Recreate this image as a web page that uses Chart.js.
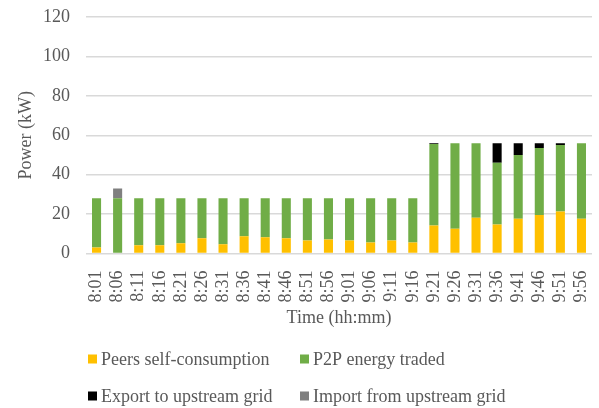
<!DOCTYPE html>
<html>
<head>
<meta charset="utf-8">
<script src="https://cdn.jsdelivr.net/npm/chart.js@4/dist/chart.umd.min.js"></script>
<style>
  html, body { margin: 0; padding: 0; background: #fff; }
  #wrap { width: 599px; height: 408px; position: relative; }
</style>
</head>
<body>
<div id="wrap"><canvas id="myChart"></canvas></div>
<script>
const times = [
  "8:01", "8:06", "8:11", "8:16", "8:21", "8:26", "8:31", "8:36",
  "8:41", "8:46", "8:51", "8:56", "9:01", "9:06", "9:11", "9:16",
  "9:21", "9:26", "9:31", "9:36", "9:41", "9:46", "9:51", "9:56",
];
const selfConsumption = [
  3, 0, 4.2, 4.2, 5.2, 7.8, 4.7, 8.8,
  8.3, 7.8, 6.6, 7.1, 6.6, 5.6, 6.6, 5.6,
  14.2, 12.5, 18.1, 14.7, 17.6, 19.5, 21.3, 17.6,
];
const p2pTraded = [
  25, 28, 23.8, 23.8, 22.8, 20.2, 23.3, 19.2,
  19.7, 20.2, 21.4, 20.9, 21.4, 22.4, 21.4, 22.4,
  41.3, 43.5, 37.9, 31.3, 32.4, 34, 33.7, 38.4,
];
const exportGrid = [
  0, 0, 0, 0, 0, 0, 0, 0,
  0, 0, 0, 0, 0, 0, 0, 0,
  0.5, 0, 0, 10, 6, 2.5, 1, 0,
];
const importGrid = [
  0, 5, 0, 0, 0, 0, 0, 0,
  0, 0, 0, 0, 0, 0, 0, 0,
  0, 0, 0, 0, 0, 0, 0, 0,
];
const yTicks = [0, 20, 40, 60, 80, 100, 120];

const textColor = "#595959";
const serif = "'Liberation Serif', 'Times New Roman', serif";

// legend in two fixed columns below the axis title
const gridLegend = {
  id: "gridLegend",
  afterDraw(chart) {
    const ctx = chart.ctx;
    const cols = [88, 300];
    const rows = [359, 396];
    ctx.save();
    ctx.font = "18px " + serif;
    ctx.textBaseline = "middle";
    ctx.textAlign = "left";
    chart.data.datasets.forEach((ds, i) => {
      const x = cols[i % 2];
      const y = rows[Math.floor(i / 2)];
      ctx.fillStyle = ds.backgroundColor;
      ctx.fillRect(x, y - 4.5, 9, 9);
      ctx.fillStyle = textColor;
      ctx.fillText(ds.label, x + 13, y + 1);
    });
    ctx.restore();
  },
};

const ctx = document.getElementById("myChart");
new Chart(ctx, {
  type: "bar",
  data: {
    labels: times,
    datasets: [
      { label: "Peers self-consumption", data: selfConsumption, backgroundColor: "#FFC000" },
      { label: "P2P energy traded", data: p2pTraded, backgroundColor: "#70AD47" },
      { label: "Export to upstream grid", data: exportGrid, backgroundColor: "#000000" },
      { label: "Import from upstream grid", data: importGrid, backgroundColor: "#7F7F7F" },
    ],
  },
  options: {
    responsive: true,
    maintainAspectRatio: false,
    animation: false,
    datasets: {
      bar: { categoryPercentage: 1, barPercentage: 0.43 },
    },
    layout: {
      padding: { top: 17, right: 7, bottom: 79, left: 0 },
    },
    plugins: {
      legend: { display: false },
      tooltip: { enabled: false },
    },
    scales: {
      x: {
        stacked: true,
        grid: { display: false },
        border: { display: false },
        afterFit: (axis) => {
          axis.height = 75.5;
          axis.paddingLeft = 0;
          axis.paddingRight = 0;
        },
        ticks: {
          color: textColor,
          font: { family: serif, size: 18 },
          minRotation: 90,
          maxRotation: 90,
          padding: 9,
          autoSkip: false,
        },
        title: {
          display: true,
          text: "Time (hh:mm)",
          color: textColor,
          font: { family: serif, size: 18 },
          padding: { top: 8, bottom: 0 },
        },
      },
      y: {
        stacked: true,
        min: 0,
        max: 120,
        afterBuildTicks: (axis) => {
          axis.ticks = yTicks.map((v) => ({ value: v }));
        },
        afterFit: (axis) => {
          axis.width = 86;
          axis.paddingTop = 0;
          axis.paddingBottom = 0;
        },
        grid: { color: "#D9D9D9", lineWidth: 1.5, drawTicks: false },
        border: { display: false },
        ticks: {
          color: textColor,
          font: { family: serif, size: 18 },
          padding: 16,
        },
        title: {
          display: true,
          text: "Power (kW)",
          color: textColor,
          font: { family: serif, size: 18 },
          padding: { top: 15, bottom: 6 },
        },
      },
    },
  },
  plugins: [gridLegend],
});
</script>
</body>
</html>
